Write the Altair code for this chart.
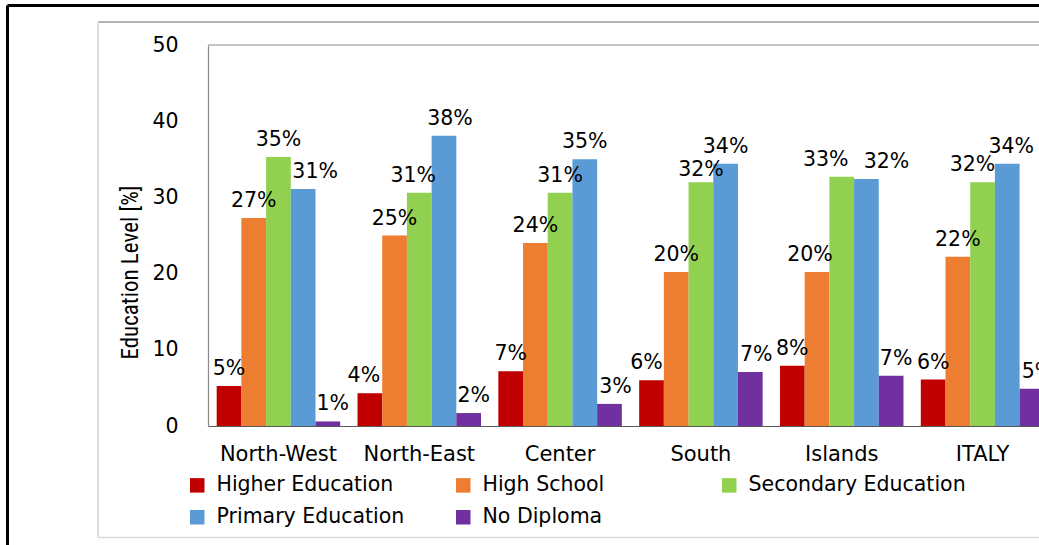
import altair as alt
import pandas as pd

regions = ["North-West", "North-East", "Center", "South", "Islands", "ITALY"]
levels = ["Higher Education", "High School", "Secondary Education",
          "Primary Education", "No Diploma"]
colors = ["#C00000", "#ED7D31", "#92D050", "#5B9BD5", "#7030A0"]

higher_education = [5.25, 4.3, 7.2, 6.0, 7.9, 6.1]
high_school = [27.3, 25.0, 24.0, 20.2, 20.2, 22.2]
secondary_education = [35.3, 30.6, 30.6, 32.0, 32.7, 32.0]
primary_education = [31.1, 38.1, 35.0, 34.4, 32.4, 34.4]
no_diploma = [0.6, 1.7, 2.9, 7.1, 6.6, 4.9]
y_ticks = [0, 10, 20, 30, 40, 50]

series = [higher_education, high_school, secondary_education,
          primary_education, no_diploma]
rows = []
for lvl, vals in zip(levels, series):
    for reg, v in zip(regions, vals):
        rows.append({"region": reg, "level": lvl, "value": v,
                     "label": f"{round(v)}%"})
df = pd.DataFrame(rows)

# Style: manual nudges (dx, dy in px) of some data labels, as in the reference
LABEL_NUDGE = {
    ("North-West", "Primary Education"): (12, 0),
    ("North-West", "No Diploma"): (5, 0),
    ("North-East", "Higher Education"): (-6, 0),
    ("North-East", "Secondary Education"): (-6, 0),
    ("North-East", "Primary Education"): (6, 0),
    ("North-East", "No Diploma"): (5, 0),
    ("Center", "No Diploma"): (6, 0),
    ("South", "Higher Education"): (-5, 0),
    ("South", "Secondary Education"): (0, 5),
    ("South", "No Diploma"): (6, 0),
    ("Islands", "High School"): (-7, 0),
    ("Islands", "Secondary Education"): (-16, 0),
    ("Islands", "Primary Education"): (20, 0),
    ("Islands", "No Diploma"): (5, 0),
    ("ITALY", "Secondary Education"): (-10, 0),
    ("ITALY", "Primary Education"): (4, 0),
    ("ITALY", "No Diploma"): (6, 0),
}
df["nudge"] = [
    "%d,%d" % LABEL_NUDGE.get((r, l), (0, 0))
    for r, l in zip(df["region"], df["level"])
]

FONT = "DejaVu Sans"
TITLE_FONT = "Liberation Sans Narrow, Roboto Condensed, Roboto"

x = alt.X("region:N", sort=regions,
          scale=alt.Scale(range=[0, 845], paddingInner=0.123, paddingOuter=0.0617),
          axis=alt.Axis(title=None, labelAngle=0, ticks=False, labelPadding=17,
                        labelFont=FONT, labelFontSize=21, labelColor="#000000",
                        domainColor="#595959", domainWidth=1.2))
xo = alt.XOffset("level:N", sort=levels,
                 scale=alt.Scale(domain=levels, paddingInner=0, paddingOuter=0))
y = alt.Y("value:Q", scale=alt.Scale(domain=[0, 50], nice=False),
          axis=alt.Axis(values=y_ticks, title="Education Level [%]", grid=False,
                        ticks=False, labelPadding=30, labelFont=FONT,
                        labelFontSize=20.5, labelColor="#000000",
                        domainColor="#8c8c8c", domainWidth=1.2,
                        titleFont=TITLE_FONT, titleFontSize=23,
                        titleFontWeight="normal", titleColor="#000000",
                        titleAngle=270, titleAlign="center", titleBaseline="bottom",
                        titleX=-66, titleY=227))
color = alt.Color("level:N", sort=levels,
                  scale=alt.Scale(domain=levels, range=colors),
                  legend=alt.Legend(title=None, orient="none", legendX=-21, legendY=430,
                                    direction="horizontal", columns=3,
                                    symbolType="square", symbolSize=210,
                                    symbolStrokeWidth=0, labelFont=FONT,
                                    labelFontSize=20.5, labelColor="#000000",
                                    labelOffset=9, columnPadding=19, rowPadding=11,
                                    gridAlign="all", padding=0, labelLimit=0))

base = alt.Chart(df)
bars = base.mark_bar().encode(x=x, xOffset=xo, y=y, color=color)

label_layers = []
for key in sorted(set(df["nudge"])):
    dxv, dyv = (int(s) for s in key.split(","))
    label_layers.append(
        base.transform_filter(alt.datum.nudge == key)
        .mark_text(font=FONT, fontSize=20.5, baseline="alphabetic", dy=-11 + dyv,
                   dx=dxv, color="#000000")
        .encode(x=x, xOffset=xo, y=y, text="label:N"))

frame = pd.DataFrame({"k": [0]})


def hrule(yv, x1, x2, col, w):
    return alt.Chart(frame).mark_rule(color=col, strokeWidth=w).encode(
        x=alt.value(x1), x2=alt.value(x2), y=alt.value(yv))


def vrule(xv, y1, y2, col, w):
    return alt.Chart(frame).mark_rule(color=col, strokeWidth=w).encode(
        x=alt.value(xv), y=alt.value(y1), y2=alt.value(y2))


decor = [
    hrule(-39.5, -200.5, 900, "#000000", 3),
    vrule(-200.5, -39.5, 520, "#000000", 3),
    hrule(-23, -110, 900, "#9a9a9a", 1.5),
    vrule(-110, -23, 492.5, "#d4d4d4", 1.5),
    hrule(492.5, -110, 900, "#d9d9d9", 1.5),
    hrule(0, 0, 900, "#8c8c8c", 1.2),
]

chart = alt.layer(bars, *label_layers, *decor).properties(
    width=831, height=381,
    autosize=alt.AutoSizeParams(type="none"),
    padding={"left": 208, "top": 45, "right": 0, "bottom": 119},
    background="#ffffff",
).configure_view(stroke=None)

chart.save("out.html", embed_options={"renderer": "svg", "actions": False})
